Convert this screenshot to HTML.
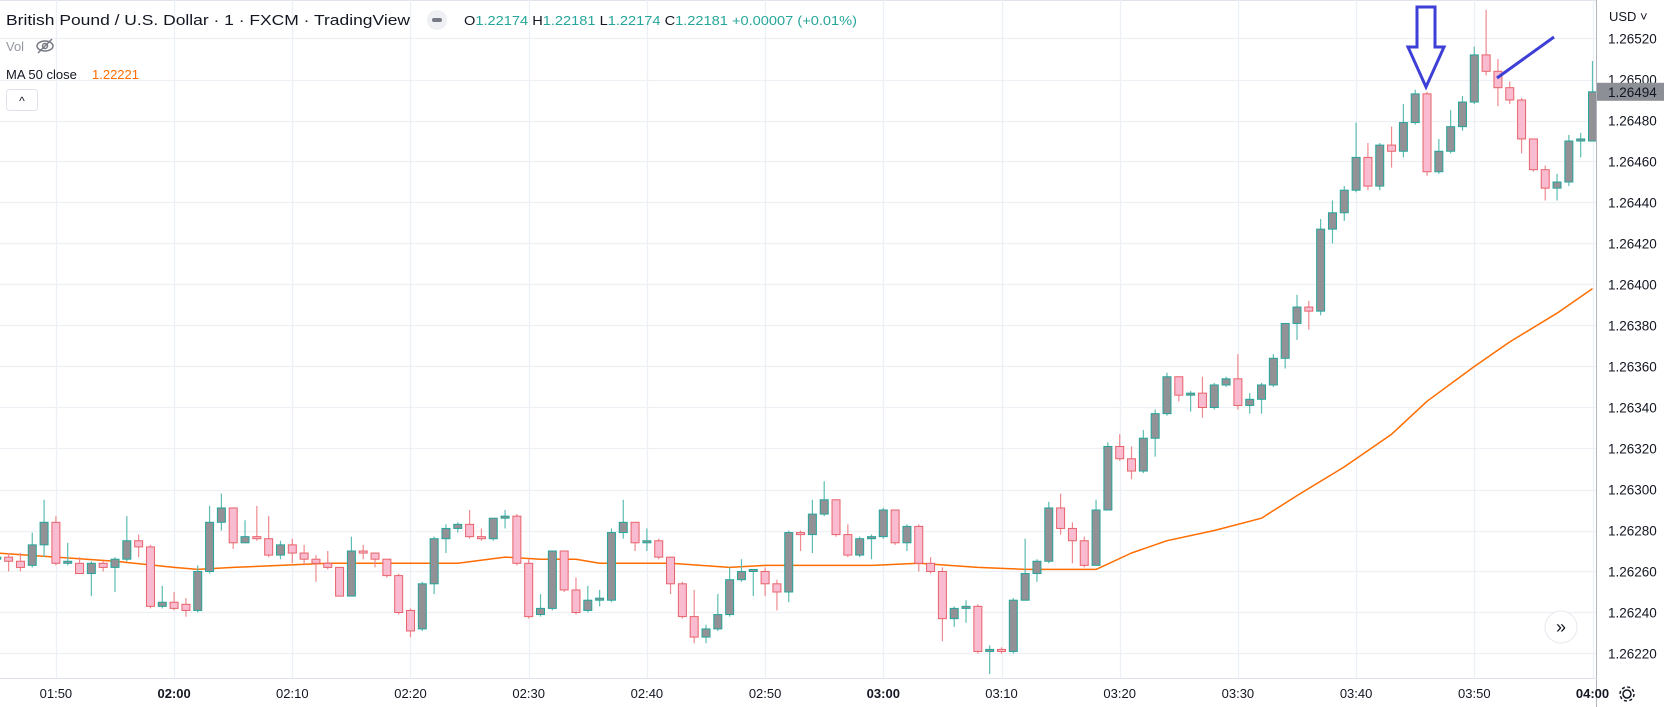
<!DOCTYPE html>
<html><head><meta charset="utf-8">
<style>
html,body{margin:0;padding:0;background:#fff;}
svg{display:block;font-family:"Liberation Sans",sans-serif;}
</style></head>
<body>
<svg id="chart" width="1673" height="707" viewBox="0 0 1673 707" xmlns="http://www.w3.org/2000/svg">
  <rect x="0" y="0" width="1673" height="707" fill="#ffffff"/>
  <line x1="0" y1="0.5" x2="1673" y2="0.5" stroke="#e0e3eb"/>
  <g id="grid"></g>
  <g id="ma"></g>
  <g id="candles"></g>
  <g id="annotations">
    <path d="M1417,7 L1435,7 L1435,47 L1444,47 L1426,87 L1408,47 L1417,47 Z" fill="none" stroke="#3d3fd6" stroke-width="3" stroke-linejoin="miter"/>
    <line x1="1497" y1="78" x2="1554" y2="37" stroke="#3d3fd6" stroke-width="3"/>
  </g>
  <rect x="1597" y="0" width="76" height="707" fill="#ffffff"/>
  <line x1="1596.5" y1="0" x2="1596.5" y2="707" stroke="#b2b5be"/>
  <line x1="0" y1="678.5" x2="1597" y2="678.5" stroke="#e0e3eb"/>
  <g id="priceAxis"></g>
  <g id="timeAxis"></g>
  <text x="1609" y="21" font-size="13" fill="#131722">USD ˅</text>
  <g>
    <rect id="lastBox" x="1597" y="82" width="67" height="18" fill="#8d8f96"/>
    <text id="lastText" x="1608" y="96" font-size="13.5" fill="#131722">1.26494</text>
  </g>
  <g>
    <text x="6" y="25" font-size="15" fill="#131722" textLength="404" lengthAdjust="spacingAndGlyphs">British Pound / U.S. Dollar · 1 · FXCM · TradingView</text>
    <circle cx="437" cy="20" r="10" fill="#eef0f3"/>
    <rect x="432" y="18" width="10" height="4" rx="2" fill="#787b86"/>
    <text x="464" y="25" font-size="13" fill="#131722" textLength="393" lengthAdjust="spacingAndGlyphs">O<tspan fill="#26a69a">1.22174</tspan> H<tspan fill="#26a69a">1.22181</tspan> L<tspan fill="#26a69a">1.22174</tspan> C<tspan fill="#26a69a">1.22181 +0.00007 (+0.01%)</tspan></text>
    <text x="6" y="51" font-size="13" fill="#9598a1">Vol</text>
    <g stroke="#787b86" stroke-width="1.5" fill="none">
      <ellipse cx="45" cy="46" rx="8" ry="5"/>
      <circle cx="45" cy="46" r="2.5"/>
      <line x1="38" y1="53" x2="52" y2="39"/>
    </g>
    <text x="6" y="79" font-size="13" fill="#131722">MA 50 close</text>
    <text x="92" y="79" font-size="13" fill="#ff6d00">1.22221</text>
    <rect x="6.5" y="89.5" width="31" height="21" rx="3" fill="#fff" stroke="#e0e3eb"/>
    <text x="22" y="105" font-size="12" fill="#131722" text-anchor="middle">^</text>
  </g>
  <g>
    <circle cx="1561" cy="627" r="16" fill="#ffffff" stroke="#e6e8ee"/>
    <text x="1561" y="633" font-size="18" fill="#131722" text-anchor="middle">»</text>
  </g>
  <g stroke="#131722" stroke-width="1.5" fill="none">
    <circle cx="1627" cy="694" r="4"/>
    <circle cx="1627" cy="694" r="7" stroke-dasharray="3 2.5"/>
  </g>
</svg>
<script>
const startLabel = "01:45";
const opens = [1.26266,1.26267,1.26265,1.26263,1.26273,1.26284,1.26264,1.26264,1.26259,1.26264,1.26262,1.26266,1.26275,1.26272,1.26243,1.26245,1.26244,1.26241,1.26260,1.26284,1.26291,1.26274,1.26277,1.26276,1.26268,1.26273,1.26269,1.26266,1.26264,1.26262,1.26248,1.26270,1.26269,1.26266,1.26258,1.26241,1.26232,1.26254,1.26276,1.26281,1.26283,1.26277,1.26276,1.26286,1.26287,1.26264,1.26239,1.26242,1.26270,1.26251,1.26241,1.26246,1.26246,1.26279,1.26284,1.26274,1.26275,1.26267,1.26254,1.26238,1.26228,1.26232,1.26239,1.26256,1.26260,1.26260,1.26254,1.26250,1.26279,1.26278,1.26288,1.26295,1.26278,1.26268,1.26276,1.26277,1.26290,1.26274,1.26282,1.26264,1.26260,1.26237,1.26242,1.26243,1.26221,1.26222,1.26221,1.26246,1.26259,1.26265,1.26291,1.26281,1.26275,1.26263,1.26290,1.26321,1.26315,1.26309,1.26325,1.26337,1.26355,1.26346,1.26347,1.26340,1.26351,1.26354,1.26341,1.26344,1.26351,1.26364,1.26381,1.26389,1.26387,1.26427,1.26435,1.26446,1.26462,1.26448,1.26468,1.26465,1.26479,1.26493,1.26455,1.26465,1.26477,1.26489,1.26512,1.26504,1.26496,1.26490,1.26471,1.26456,1.26447,1.26450,1.26470,1.26470];
const highs = [1.26268,1.26269,1.26269,1.26279,1.26295,1.26287,1.26274,1.26267,1.26265,1.26265,1.26267,1.26287,1.26278,1.26273,1.26253,1.26250,1.26247,1.26263,1.26292,1.26298,1.26291,1.26285,1.26292,1.26287,1.26275,1.26276,1.26273,1.26268,1.26270,1.26262,1.26277,1.26273,1.26269,1.26266,1.26259,1.26242,1.26255,1.26277,1.26283,1.26284,1.26290,1.26281,1.26286,1.26290,1.26288,1.26266,1.26249,1.26270,1.26270,1.26257,1.26253,1.26251,1.26281,1.26295,1.26284,1.26281,1.26276,1.26267,1.26255,1.26251,1.26234,1.26249,1.26262,1.26266,1.26261,1.26262,1.26256,1.26280,1.26280,1.26295,1.26304,1.26295,1.26283,1.26277,1.26278,1.26291,1.26290,1.26283,1.26283,1.26267,1.26262,1.26243,1.26246,1.26244,1.26224,1.26223,1.26247,1.26276,1.26266,1.26294,1.26298,1.26284,1.26277,1.26295,1.26323,1.26327,1.26321,1.26329,1.26339,1.26357,1.26355,1.26348,1.26355,1.26352,1.26355,1.26366,1.26347,1.26352,1.26366,1.26381,1.26395,1.26392,1.26432,1.26441,1.26448,1.26479,1.26469,1.26469,1.26477,1.26488,1.26495,1.26494,1.26471,1.26485,1.26492,1.26516,1.26534,1.26510,1.26499,1.26491,1.26471,1.26458,1.26454,1.26473,1.26474,1.26509];
const lows = [1.26265,1.26260,1.26260,1.26262,1.26267,1.26263,1.26263,1.26259,1.26248,1.26260,1.26250,1.26265,1.26267,1.26242,1.26242,1.26241,1.26238,1.26240,1.26259,1.26280,1.26271,1.26274,1.26275,1.26267,1.26266,1.26264,1.26263,1.26255,1.26261,1.26248,1.26248,1.26266,1.26262,1.26257,1.26239,1.26228,1.26231,1.26249,1.26269,1.26279,1.26276,1.26275,1.26275,1.26281,1.26263,1.26237,1.26238,1.26241,1.26250,1.26239,1.26240,1.26243,1.26245,1.26276,1.26270,1.26270,1.26266,1.26249,1.26237,1.26225,1.26225,1.26231,1.26238,1.26255,1.26248,1.26248,1.26241,1.26245,1.26270,1.26269,1.26287,1.26277,1.26267,1.26267,1.26266,1.26276,1.26273,1.26270,1.26260,1.26259,1.26226,1.26233,1.26235,1.26220,1.26210,1.26220,1.26220,1.26246,1.26255,1.26264,1.26278,1.26264,1.26262,1.26263,1.26290,1.26314,1.26305,1.26308,1.26316,1.26336,1.26343,1.26338,1.26335,1.26339,1.26350,1.26339,1.26337,1.26337,1.26350,1.26359,1.26373,1.26378,1.26385,1.26420,1.26431,1.26445,1.26446,1.26446,1.26457,1.26462,1.26478,1.26453,1.26454,1.26464,1.26475,1.26488,1.26502,1.26487,1.26488,1.26464,1.26455,1.26441,1.26441,1.26448,1.26462,1.26470];
const closes = [1.26267,1.26265,1.26262,1.26273,1.26284,1.26264,1.26265,1.26259,1.26264,1.26262,1.26266,1.26275,1.26272,1.26243,1.26245,1.26242,1.26241,1.26260,1.26284,1.26291,1.26274,1.26277,1.26276,1.26268,1.26273,1.26269,1.26266,1.26264,1.26262,1.26248,1.26270,1.26269,1.26266,1.26258,1.26240,1.26231,1.26254,1.26276,1.26281,1.26283,1.26277,1.26276,1.26286,1.26287,1.26264,1.26238,1.26242,1.26270,1.26251,1.26240,1.26246,1.26247,1.26279,1.26284,1.26274,1.26275,1.26267,1.26254,1.26238,1.26228,1.26232,1.26239,1.26256,1.26260,1.26261,1.26254,1.26250,1.26279,1.26278,1.26288,1.26295,1.26278,1.26268,1.26276,1.26277,1.26290,1.26274,1.26282,1.26264,1.26260,1.26237,1.26242,1.26243,1.26221,1.26222,1.26221,1.26246,1.26259,1.26265,1.26291,1.26281,1.26275,1.26263,1.26290,1.26321,1.26315,1.26309,1.26325,1.26337,1.26355,1.26346,1.26347,1.26340,1.26351,1.26354,1.26341,1.26344,1.26351,1.26364,1.26381,1.26389,1.26387,1.26427,1.26435,1.26446,1.26462,1.26448,1.26468,1.26465,1.26479,1.26493,1.26455,1.26465,1.26477,1.26489,1.26512,1.26504,1.26496,1.26490,1.26471,1.26456,1.26447,1.26450,1.26470,1.26471,1.26494];
const maIndex = [0,5,10,15,17,20,24,28,32,35,39,43,46,49,51,55,57,62,65,70,74,78,83,87,91,93,96,99,103,107,110,114,118,121,125,128,132,135];
const maValues = [1.26269,1.26267,1.26265,1.26262,1.26261,1.26262,1.26263,1.26264,1.26264,1.26264,1.26264,1.26267,1.26266,1.26266,1.26264,1.26264,1.26264,1.26262,1.26263,1.26263,1.26263,1.26264,1.26262,1.26261,1.26261,1.26261,1.26269,1.26275,1.26280,1.26286,1.26297,1.26311,1.26327,1.26343,1.26360,1.26372,1.26386,1.26398];
const priceTicks = [1.26520,1.26500,1.26480,1.26460,1.26440,1.26420,1.26400,1.26380,1.26360,1.26340,1.26320,1.26300,1.26280,1.26260,1.26240,1.26220];
const timeTickIndex = [5,15,25,35,45,55,65,75,85,95,105,115,125,135];
const timeTickLabels = ["01:50","02:00","02:10","02:20","02:30","02:40","02:50","03:00","03:10","03:20","03:30","03:40","03:50","04:00"];
const lastPrice = 1.26494;

const PX_PER_BAR = 11.82, X_ORIGIN = 883.3, ORIGIN_INDEX = 75;
const Y_REF_PRICE = 1.26480, Y_REF_PX = 120.5, PX_PER_UNIT = 205000;
function xScale(i){ return X_ORIGIN + PX_PER_BAR*(i-ORIGIN_INDEX); }
function yScale(p){ return Y_REF_PX + (Y_REF_PRICE - p)*PX_PER_UNIT; }

const NS = "http://www.w3.org/2000/svg";
function mk(tag, attrs, parent){
  const e = document.createElementNS(NS, tag);
  for (const k in attrs) e.setAttribute(k, attrs[k]);
  parent.appendChild(e); return e;
}
const grid = document.getElementById('grid');
const PLOT_RIGHT = 1596, PLOT_BOTTOM = 678;
priceTicks.forEach(function(p){
  const y = Math.round(yScale(p))+0.5;
  const l = mk('line',{x1:0,y1:y,x2:PLOT_RIGHT,y2:y,stroke:'#edf0f4','stroke-width':1.3},grid);
  
  
});
timeTickIndex.forEach(function(i){
  const x = Math.round(xScale(i))+0.5;
  const l = mk('line',{x1:x,y1:0,x2:x,y2:PLOT_BOTTOM,stroke:'#edf0f4','stroke-width':1.3},grid);
  
  
});

const maG = document.getElementById('ma');
const maPts = maIndex.map(function(i,k){ return xScale(i).toFixed(1)+','+yScale(maValues[k]).toFixed(1); }).join(' ');
const maLine = mk('polyline',{points:maPts,fill:'none',stroke:'#ff6d00','stroke-width':1.5,'stroke-linejoin':'round'},maG);



const cg = document.getElementById('candles');
const BODY_W = 8;
for (let i=0;i<opens.length;i++){
  const o=opens[i], c=closes[i], h=highs[i], l=lows[i];
  const bull = c >= o;
  const x = xScale(i);
  const g = mk('g',{},cg);
  
  
  const wick = mk('line',{x1:x,y1:yScale(h),x2:x,y2:yScale(l),stroke:bull?'#5cbdb2':'#ee8a8f','stroke-width':1.2},g);
  
  
  const top = yScale(Math.max(o,c)), bot = yScale(Math.min(o,c));
  const body = mk('rect',{x:x-BODY_W/2,y:top,width:BODY_W,height:Math.max(bot-top,1.5),fill:bull?'#919196':'#f8bbd0',stroke:bull?'#26a69a':'#e8636b','stroke-width':1},g);
  
  
}

const pa = document.getElementById('priceAxis');
priceTicks.forEach(function(p){
  const t = mk('text',{x:1608,y:yScale(p)+5,'font-size':13.5,fill:'#131722'},pa);
  t.textContent = p.toFixed(5);
  
  
});
document.getElementById('lastBox').setAttribute('y', yScale(lastPrice)-9);
document.getElementById('lastText').setAttribute('y', yScale(lastPrice)+5);
document.getElementById('lastText').textContent = lastPrice.toFixed(5);

const ta = document.getElementById('timeAxis');
timeTickIndex.forEach(function(i,k){
  const lab = timeTickLabels[k];
  const bold = lab.slice(3)==="00";
  const t = mk('text',{x:xScale(i),y:698,'font-size':13,fill:'#131722','text-anchor':'middle','font-weight':bold?'bold':'normal'},ta);
  t.textContent = lab;
  
  
});
</script>
</body></html>
